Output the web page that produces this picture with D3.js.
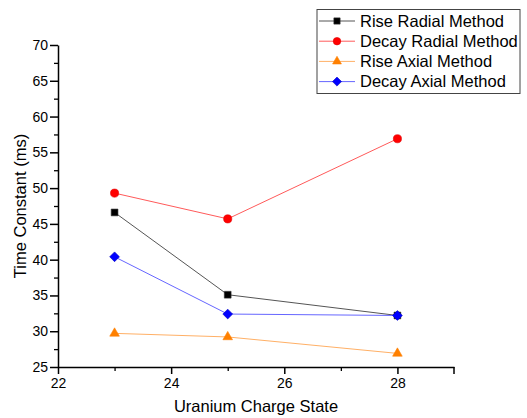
<!DOCTYPE html>
<html lang="en">
<head>
<meta charset="UTF-8">
<title>Time Constant vs Uranium Charge State</title>
<script src="https://cdn.jsdelivr.net/npm/d3@7/dist/d3.min.js"></script>
<style>
  body { margin: 0; background: #fff; }
  svg { display: block; font-family: "Liberation Sans", Arial, sans-serif; }
</style>
</head>
<body>
<svg width="527" height="418"></svg>
<script>
    // data
    const chargeStates = [23, 25, 28];
    const riseRadial = [46.6, 35.1, 32.2];
    const decayRadial = [49.3, 45.7, 56.9];
    const riseAxial = [29.7, 29.2, 26.9];
    const decayAxial = [40.4, 32.4, 32.2];
    const seriesNames = ["Rise Radial Method", "Decay Radial Method", "Rise Axial Method", "Decay Axial Method"];
    const xTicks = [22, 24, 26, 28];
    const yTicks = [25, 30, 35, 40, 45, 50, 55, 60, 65, 70];

    // square turned 45 degrees, Origin-style diamond
    const diamond = {
        draw(ctx, size) {
            const r = Math.sqrt(size / 2);
            ctx.moveTo(0, -r); ctx.lineTo(r, 0); ctx.lineTo(0, r); ctx.lineTo(-r, 0); ctx.closePath();
        }
    };

    const series = [
        {name: seriesNames[0], values: riseRadial, color: "#000000", line: "#555", stroke: "#333", shape: d3.symbolSquare, size: 46},
        {name: seriesNames[1], values: decayRadial, color: "#ff0000", line: "#ff5a5a", stroke: "#e00000", shape: d3.symbolCircle, size: 52},
        {name: seriesNames[2], values: riseAxial, color: "#ff8000", line: "#ffb066", stroke: "#ff8000", shape: d3.symbolTriangle, size: 40},
        {name: seriesNames[3], values: decayAxial, color: "#0000ff", line: "#6666ff", stroke: "#0000c0", shape: diamond, size: 48}
    ];

    const svg = d3.select("svg");
    const x = d3.scaleLinear().domain([22, 29]).range([58, 454]);
    const y = d3.scaleLinear().domain([25, 70]).range([367, 45]);

    // minor ticks first
    svg.append("g")
        .attr("transform", `translate(0,${y(25)})`)
        .call(d3.axisBottom(x).tickValues([23, 25, 27]).tickSize(4).tickFormat(""))
        .call(g => g.select(".domain").remove())
        .selectAll("line").attr("stroke-width", 1.3);
    svg.append("g")
        .attr("transform", `translate(${x(22)},0)`)
        .call(d3.axisLeft(y).tickValues(d3.range(27.5, 70, 5)).tickSize(4).tickFormat(""))
        .call(g => g.select(".domain").remove())
        .selectAll("line").attr("stroke-width", 1.3);

    const xAxis = svg.append("g")
        .attr("transform", `translate(0,${y(25)})`)
        .call(d3.axisBottom(x).tickValues(xTicks).tickFormat(d3.format("d")).tickSize(7).tickPadding(4).tickSizeOuter(0));
    xAxis.select(".domain").attr("stroke-width", 1.5);
    xAxis.selectAll("line").attr("stroke-width", 1.5);
    xAxis.selectAll("text").attr("font-size", 14).attr("fill", "#000");
    // end tick at 29
    xAxis.append("line").attr("x1", x(29)).attr("x2", x(29)).attr("y1", 0).attr("y2", 7)
        .attr("stroke", "#000").attr("stroke-width", 1.5);

    const yAxis = svg.append("g")
        .attr("transform", `translate(${x(22)},0)`)
        .call(d3.axisLeft(y).tickValues(yTicks).tickFormat(d3.format("d")).tickSize(8).tickPadding(2).tickSizeOuter(0));
    yAxis.select(".domain").attr("stroke-width", 1.5);
    yAxis.selectAll("line").attr("stroke-width", 1.5);
    yAxis.selectAll("text").attr("font-size", 14).attr("fill", "#000");

    svg.append("text")
        .attr("x", (x(22) + x(29)) / 2).attr("y", 412)
        .attr("text-anchor", "middle").attr("font-size", 16.5)
        .text("Uranium Charge State");
    svg.append("text")
        .attr("transform", `translate(26,${(y(25) + y(70)) / 2}) rotate(-90)`)
        .attr("text-anchor", "middle").attr("font-size", 16.5)
        .text("Time Constant (ms)");

    const line = d3.line().x((d, i) => x(chargeStates[i])).y(d => y(d));

    series.forEach(s => {
        svg.append("path")
            .attr("d", line(s.values))
            .attr("fill", "none")
            .attr("stroke", s.line)
            .attr("stroke-width", 1);
    });
    series.forEach(s => {
        svg.append("g").selectAll("path")
            .data(s.values)
            .join("path")
            .attr("transform", (d, i) => `translate(${x(chargeStates[i])},${y(d)})`)
            .attr("d", d3.symbol().type(s.shape).size(s.size))
            .attr("fill", s.color)
            .attr("stroke", s.stroke)
            .attr("stroke-width", 0.6);
    });

    // legend
    const legend = svg.append("g");
    legend.append("rect")
        .attr("x", 317).attr("y", 9.5).attr("width", 203).attr("height", 84)
        .attr("fill", "#fff").attr("stroke", "#444").attr("stroke-width", 1);
    series.forEach((s, i) => {
        const ly = 21 + i * 20.2;
        legend.append("line")
            .attr("x1", 319).attr("x2", 355).attr("y1", ly).attr("y2", ly)
            .attr("stroke", s.line).attr("stroke-width", 1);
        legend.append("path")
            .attr("transform", `translate(337,${ly})`)
            .attr("d", d3.symbol().type(s.shape).size(s.size * 0.85))
            .attr("fill", s.color).attr("stroke", s.stroke).attr("stroke-width", 0.6);
        legend.append("text")
            .attr("x", 360).attr("y", ly).attr("dy", "0.35em")
            .attr("font-size", 16.5)
            .text(s.name);
    });
</script>
</body>
</html>
